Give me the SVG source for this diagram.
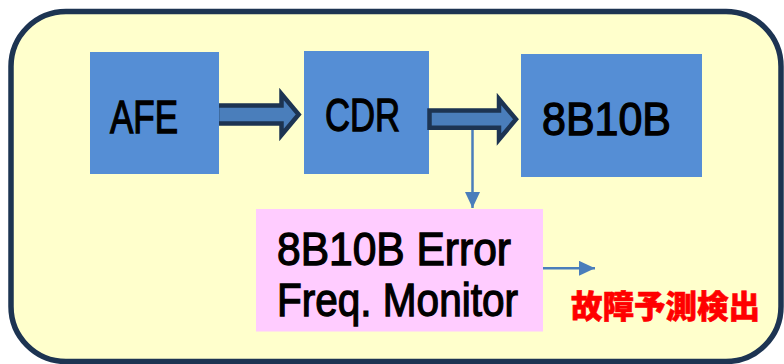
<svg xmlns="http://www.w3.org/2000/svg" width="784" height="364" viewBox="0 0 784 364">
  <defs>
    <style>
      .frame { fill: #ffffcc; stroke: #1d3452; stroke-width: 5.5; }
      .block { fill: #558ed5; }
      .monitor { fill: #ffccff; }
      .label { font-family: "Liberation Sans", Arial, sans-serif; font-size: 46px; fill: #000000; stroke: #000000; stroke-width: 1.3; }
      .flow { fill: #4a7ebb; stroke: #1d3452; stroke-width: 4.5; stroke-linejoin: miter; stroke-miterlimit: 10; }
      .link { fill: none; stroke: #4a7ebb; stroke-width: 2.5; }
      .alert { font-family: "Noto Sans CJK JP", "Noto Sans CJK SC", sans-serif; font-size: 31.5px; font-weight: 900; fill: #ff0000; stroke: #ff0000; stroke-width: 0.6; }
    </style>
    <marker id="head" markerUnits="userSpaceOnUse" markerWidth="16" markerHeight="15" refX="16" refY="7.5" orient="auto">
      <path d="M0,0 L16,7.5 L0,15 z" fill="#4a7ebb"/>
    </marker>
  </defs>

  <!-- outer enclosure -->
  <rect class="frame" x="11" y="11.5" width="770" height="350" rx="55" ry="55"/>

  <g id="connectors">
    <!-- AFE to CDR block arrow -->
    <path class="flow" d="M217,105.5 L281.5,105.5 L281.5,94 L298.7,114.5 L281.5,135 L281.5,123.5 L217,123.5 Z"/>
    <!-- tap from CDR output down to the monitor -->
    <line class="link" x1="472.5" y1="129" x2="472.5" y2="208" marker-end="url(#head)"/>
    <!-- monitor output -->
    <line class="link" x1="543" y1="268.3" x2="595" y2="268.3" marker-end="url(#head)"/>
  </g>

  <g id="afe">
    <rect class="block" x="90" y="52" width="129" height="122"/>
    <text class="label" x="110" y="133" textLength="68" lengthAdjust="spacingAndGlyphs">AFE</text>
  </g>

  <g id="cdr">
    <rect class="block" x="304" y="51" width="125" height="123"/>
    <text class="label" x="325" y="131" textLength="75" lengthAdjust="spacingAndGlyphs">CDR</text>
  </g>

  <g id="cdr-to-8b10b">
    <path class="flow" d="M429.5,110.5 L499,110.5 L499,99 L516,119.3 L499,139.5 L499,127.8 L429.5,127.8 Z"/>
  </g>

  <g id="dec8b10b">
    <rect class="block" x="521" y="54" width="181" height="123"/>
    <text class="label" x="542" y="134.5" textLength="129" lengthAdjust="spacingAndGlyphs">8B10B</text>
  </g>

  <g id="error-monitor">
    <rect class="monitor" x="256" y="209" width="287" height="122.5"/>
    <text class="label" x="277" y="265" textLength="234" lengthAdjust="spacingAndGlyphs">8B10B Error</text>
    <text class="label" x="277" y="315.5" textLength="241" lengthAdjust="spacingAndGlyphs">Freq. Monitor</text>
  </g>

  <g id="fault-label">
    <text class="alert" x="571" y="317.5">故障予測検出</text>
  </g>
</svg>
